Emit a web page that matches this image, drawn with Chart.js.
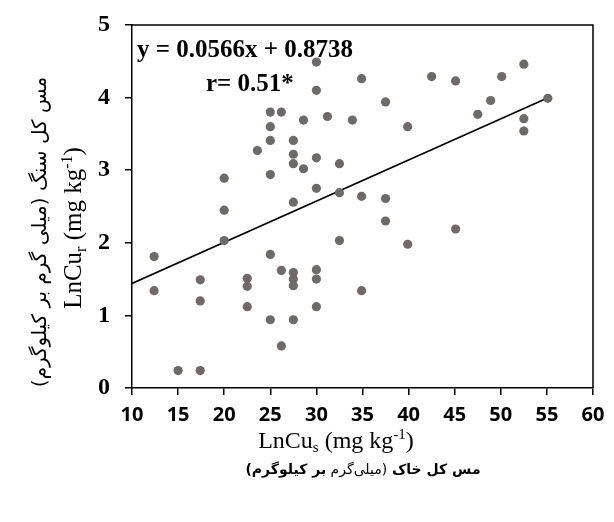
<!DOCTYPE html>
<html>
<head>
<meta charset="utf-8">
<script src="https://cdn.jsdelivr.net/npm/chart.js@4.4.1/dist/chart.umd.min.js"></script>
<style>
html,body{margin:0;padding:0;background:#fff;}
#wrap{width:614px;height:522px;}
</style>
</head>
<body>
<div id="wrap"><canvas id="c" width="614" height="522"></canvas></div>
<script>
// Soil Cu (x) vs rock Cu (y)
const soilCu = [30,30,25,26.2,28.6,31.2,25,25,27.5,23.6,27.5,30,27.5,28.6,32.5,20,25,30,32.5,27.5,
  20,32.5,20,12.4,25,26.2,27.5,30,17.4,22.5,27.5,30,22.5,27.5,12.4,17.4,22.5,30,25,27.5,26.2,15,17.4,
  52.5,34.9,42.5,45.1,50.1,55.1,37.5,48.9,33.9,47.5,52.5,39.9,52.5,34.9,37.5,37.5,45.1,39.9,34.9];
const rockCu = [4.49,4.10,3.80,3.80,3.69,3.74,3.60,3.41,3.41,3.27,3.22,3.17,3.09,3.02,3.09,2.89,2.94,2.75,2.69,2.56,
  2.45,2.03,2.03,1.81,1.84,1.62,1.59,1.63,1.49,1.51,1.50,1.50,1.40,1.41,1.34,1.20,1.12,1.12,0.94,0.94,0.58,0.24,0.24,
  4.46,4.26,4.29,4.23,4.29,3.99,3.94,3.96,3.69,3.77,3.71,3.60,3.54,2.64,2.61,2.30,2.19,1.98,1.34];
const fitX = [10, 55];
const fitY = [1.44, 3.99];
const xTicks = [10,15,20,25,30,35,40,45,50,55,60];
const yTicks = [0,1,2,3,4,5];
const eqLine1 = "y = 0.0566x + 0.8738";
const eqLine2 = "r= 0.51*";

const points = soilCu.map((x,i)=>({x:x, y:rockCu[i]}));
const fitPts = fitX.map((x,i)=>({x:x, y:fitY[i]}));

function drawSubSup(ctx, parts, x, y, size, family){
  let cx = x;
  for (const [t, m] of parts){
    if (m === 'n'){ ctx.font = size+'px '+family; ctx.fillText(t, cx, y); cx += ctx.measureText(t).width; }
    else if (m === 'sub'){ const s = Math.round(size*0.62); ctx.font = s+'px '+family; ctx.fillText(t, cx, y + size*0.18); cx += ctx.measureText(t).width; }
    else { const s = Math.round(size*0.62); ctx.font = s+'px '+family; ctx.fillText(t, cx, y - size*0.38); cx += ctx.measureText(t).width; }
  }
  return cx - x;
}
function measureSubSup(ctx, parts, size, family){
  let w = 0;
  for (const [t, m] of parts){
    const s = m === 'n' ? size : Math.round(size*0.62);
    ctx.font = s+'px '+family; w += ctx.measureText(t).width;
  }
  return w;
}

const decor = {
  id:'decor',
  afterDraw(chart){
    const ctx = chart.ctx, a = chart.chartArea;
    ctx.save();
    ctx.strokeStyle = '#000'; ctx.lineWidth = 1.5;
    ctx.beginPath();
    ctx.moveTo(a.left, a.top); ctx.lineTo(a.right, a.top); ctx.lineTo(a.right, a.bottom);
    ctx.stroke();
    ctx.fillStyle = '#000';
    ctx.textBaseline = 'alphabetic';
    ctx.font = 'bold 25px "Liberation Serif"';
    ctx.textAlign = 'left';
    ctx.fillText(eqLine1, 137, 57);
    ctx.fillText(eqLine2, 206, 91);
    const fam = '"Liberation Serif"';
    const xParts = [['LnCu','n'],['s','sub'],[' (mg kg','n'],['-1','sup'],[')','n']];
    const xw = measureSubSup(ctx, xParts, 24, fam);
    drawSubSup(ctx, xParts, 336 - xw/2, 448, 24, fam);
    ctx.direction = 'rtl'; ctx.textAlign = 'right';
    const segs = [['مس کل خاک ','bold'],['(میلی‌گرم ','normal'],['بر کیلوگرم)','bold']];
    const fs = 14;
    let tot = 0;
    for (const [t,w] of segs){ ctx.font = w+' '+fs+'px "DejaVu Sans"'; tot += ctx.measureText(t).width; }
    let px = 363 + tot/2;
    for (const [t,w] of segs){ ctx.font = w+' '+fs+'px "DejaVu Sans"'; ctx.fillText(t, px, 474); px -= ctx.measureText(t).width; }
    ctx.restore();

    ctx.save();
    ctx.translate(81, 228);
    ctx.rotate(-Math.PI/2);
    ctx.fillStyle = '#000';
    const yParts = [['LnCu','n'],['r','sub'],[' (mg kg','n'],['-1','sup'],[')','n']];
    const yw = measureSubSup(ctx, yParts, 25, fam);
    drawSubSup(ctx, yParts, -yw/2, 0, 25, fam);
    ctx.restore();

    ctx.save();
    ctx.translate(46, 232);
    ctx.rotate(-Math.PI/2);
    ctx.fillStyle = '#000';
    ctx.direction = 'rtl'; ctx.textAlign = 'center';
    ctx.font = '20px "DejaVu Sans"';
    ctx.fillText('مس کل سنگ (میلی گرم بر کیلوگرم)', 0, 0);
    ctx.restore();
  }
};

new Chart(document.getElementById('c'), {
  type:'scatter',
  data:{
    datasets:[
      {type:'scatter', data:points, backgroundColor:'#6f6a6a', borderWidth:0, pointRadius:4.6, pointHoverRadius:4.6},
      {type:'line', data:fitPts, borderColor:'#000', borderWidth:1.6, pointRadius:0, fill:false, tension:0}
    ]
  },
  options:{
    responsive:false,
    animation:false,
    devicePixelRatio:1,
    layout:{padding:{top:25, right:21, left:0, bottom:0}},
    plugins:{legend:{display:false}, tooltip:{enabled:false}},
    scales:{
      x:{
        type:'linear', min:10, max:60,
        afterFit(s){ s.height = 134; s.paddingLeft = 0; s.paddingRight = 0; },
        afterBuildTicks(s){ s.ticks = xTicks.map(v=>({value:v})); },
        grid:{display:true, drawOnChartArea:false, drawTicks:true, tickLength:7, color:'#000', lineWidth:1.5},
        border:{display:true, color:'#000', width:1.5},
        ticks:{padding:8, color:'#000', font:{family:'"Open Sans"', weight:'bold', size:20}, maxRotation:0, autoSkip:false}
      },
      y:{
        type:'linear', min:0, max:5,
        afterFit(s){ s.width = 132; s.paddingTop = 0; s.paddingBottom = 0; },
        afterBuildTicks(s){ s.ticks = yTicks.map(v=>({value:v})); },
        grid:{display:true, drawOnChartArea:false, drawTicks:true, tickLength:7, color:'#000', lineWidth:1.5},
        border:{display:true, color:'#000', width:1.5},
        ticks:{padding:15, color:'#000', font:{family:'"Liberation Serif"', weight:'bold', size:24}}
      }
    }
  },
  plugins:[decor]
});
</script>
</body>
</html>
